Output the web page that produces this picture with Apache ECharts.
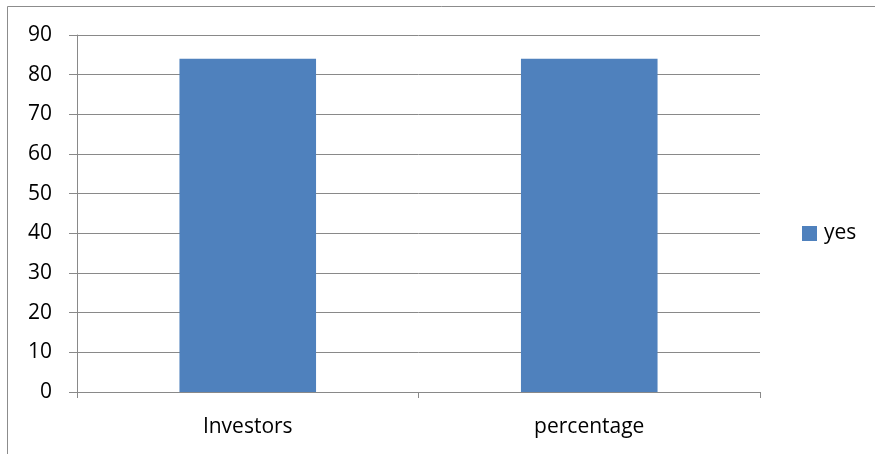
<!DOCTYPE html>
<html><head><meta charset="utf-8">
<script src="https://cdn.jsdelivr.net/npm/echarts@6/dist/echarts.min.js"></script>
<style>html,body{margin:0;padding:0;background:#fff}#c{width:875px;height:454px}</style>
</head><body><div id="c"></div>
<script>
const categories = ['Investors', 'percentage'];
const yesValues = [84, 84];
const seriesName = 'yes';

const chart = echarts.init(document.getElementById('c'), null, {renderer: 'canvas'});
const font = '"Open Sans", "Noto Sans", sans-serif';
chart.setOption({
  animation: false,
  backgroundColor: '#fff',
  graphic: [{
    type: 'rect', silent: true,
    shape: {x: 7.5, y: 6.5, width: 900, height: 500},
    style: {fill: 'none', stroke: '#8c8c8c', lineWidth: 1}
  }],
  grid: {left: 77, right: 115, top: 35, bottom: 62, containLabel: false},
  legend: {
    data: [seriesName], orient: 'vertical',
    itemWidth: 15, itemHeight: 15, itemGap: 6,
    icon: 'rect',
    textStyle: {fontFamily: font, fontSize: 21, color: '#000', padding: [0, 0, 0, 2]},
    left: 797, top: 218
  },
  xAxis: {
    type: 'category', data: categories,
    axisLine: {show: true, lineStyle: {color: '#898989', width: 1}},
    axisTick: {show: true, length: 6, alignWithLabel: false, lineStyle: {color: '#898989'}},
    axisLabel: {fontFamily: font, fontSize: 21, color: '#000', margin: 25}
  },
  yAxis: {
    type: 'value', min: 0, max: 90, interval: 10,
    axisLine: {show: true, lineStyle: {color: '#898989', width: 1}},
    axisTick: {show: true, length: 8, lineStyle: {color: '#898989'}},
    axisLabel: {fontFamily: font, fontSize: 21, color: '#000', margin: 25},
    splitLine: {show: true, lineStyle: {color: '#898989', width: 1}}
  },
  series: [{
    name: seriesName, type: 'bar', data: yesValues, barWidth: '40%',
    itemStyle: {color: '#4F81BD'}
  }]
});
</script></body></html>
